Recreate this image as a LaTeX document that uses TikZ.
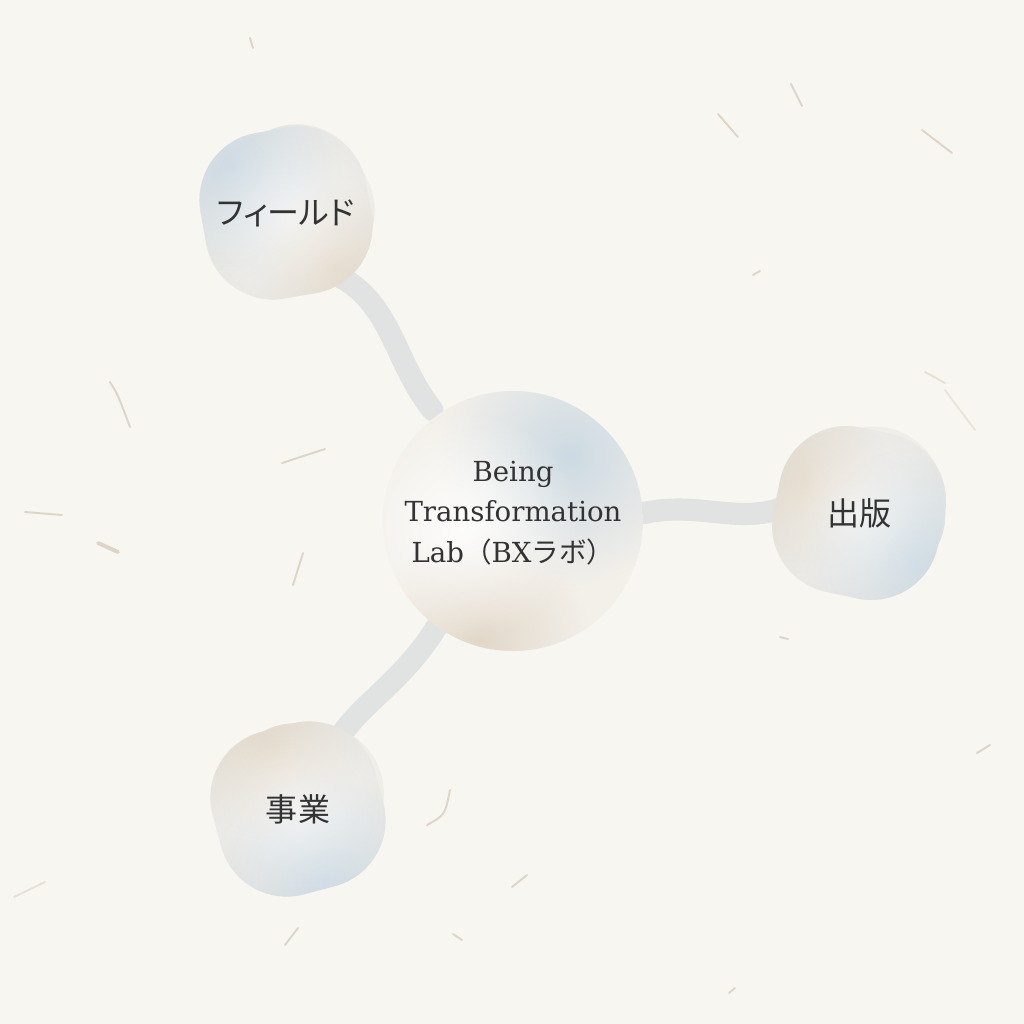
\documentclass[tikz,border=0pt]{standalone}
\usepackage{fontspec}
\setmainfont{DejaVu Serif}
\newfontfamily\jp{Noto Sans CJK JP}
\newfontfamily\jpp[RawFeature=+palt]{Noto Sans CJK JP}
\usetikzlibrary{fadings}

\definecolor{paperbg}{HTML}{F7F6F1}
\definecolor{fibretan}{HTML}{B9A58A}
\definecolor{linkgrey}{HTML}{E1E3E3}
\definecolor{ink}{HTML}{333333}
\definecolor{skyblue}{HTML}{CDDAE3}
\definecolor{sandtan}{HTML}{E2D8C9}
\definecolor{blobbase}{HTML}{EAE9E5}
\definecolor{hubbase}{HTML}{F3F0EA}

\tikzfading[name=glow, inner color=transparent!0, outer color=transparent!100]

\pgfdeclarelayer{bg}
\pgfdeclarelayer{mid}
\pgfsetlayers{bg,mid,main}

% two overlapping rounded squares make one blob
\newcommand{\blobpath}[2]{{[rotate=#1] (-84,-84) rectangle (84,84)} {[shift={(7,-7)}, rotate=#2] (-78,-78) rectangle (78,78)}}

\begin{document}
\begin{tikzpicture}[x=0.01cm, y=-0.01cm,
    fibre/.style={draw=fibretan, line width=0.55pt, line cap=round, opacity=0.4},
    link/.style={draw=linkgrey, line width=6.3pt, line cap=round},
    hub/.style={circle, minimum size=2.6cm, inner sep=0pt, align=center,
        font=\fontsize{7.85}{11.6}\selectfont, text=ink},
    topic/.style={circle, minimum size=1.2cm, inner sep=0pt,
        font=\fontsize{9.1}{11}\jp, text=ink},
    spot/.style={fill=#1, path fading=glow},
    blobshape/.style={rounded corners=0.68cm}]
    \useasboundingbox (0,0) rectangle (1024,1024);

    \node[hub] (bx) at (513,513) {Being\\Transformation\\Lab{\jp （}BX{\jp ラボ）}};
    \node[topic] (field) at (286,213) {\jpp フィールド};
    \node[topic] (pub) at (859,513) {出版};
    \node[topic] (biz) at (298,809) {事業};

    \begin{pgfonlayer}{bg}
    \fill[paperbg] (0,0) rectangle (1024,1024);
    % paper fibres
    \draw[fibre] (110,382) .. controls (118,395) .. (130,427);
    \draw[fibre] (282,463) -- (325,449);
    \draw[fibre] (25,512) -- (62,515);
    \draw[fibre, line width=1.1pt] (98,543) -- (118,552);
    \draw[fibre] (303,553) -- (293,585);
    \draw[fibre] (718,114) -- (738,137);
    \draw[fibre] (791,84) -- (802,106);
    \draw[fibre] (922,130) -- (952,153);
    \draw[fibre] (753,275) -- (760,271);
    \draw[fibre] (780,637) -- (788,639);
    \draw[fibre] (977,753) -- (990,745);
    \draw[fibre] (729,993) -- (735,988);
    \draw[fibre, opacity=0.25] (14,897) -- (45,882);
    \draw[fibre] (427,825) .. controls (445,815) .. (450,790);
    \draw[fibre] (512,887) -- (527,875);
    \draw[fibre] (453,934) -- (462,940);
    \draw[fibre, opacity=0.25] (925,372) -- (945,383);
    \draw[fibre, opacity=0.2] (945,390) -- (975,430);
    \draw[fibre] (285,945) -- (298,928);
    \draw[fibre] (250,38) -- (253,48);
    % connectors
    \draw[link] (bx.128) .. controls (392,360) and (392,295) .. (field.-55);
    \draw[link] (bx.0) .. controls (705,500) and (745,530) .. (pub.168);
    \draw[link] (bx.236) .. controls (400,690) and (345,710) .. (biz.58);
    \end{pgfonlayer}

    \begin{pgfonlayer}{mid}
    % hub circle
    \begin{scope}
        \clip ([yshift=-0.08cm]bx.center) circle (130);
        \fill[hubbase] ([yshift=-0.08cm]bx.center) circle (130);
        \fill[spot=skyblue] (570,455) circle (130);
        \fill[spot=sandtan] (480,640) circle (110);
        \fill[spot=white, opacity=.85] (465,525) circle (115);
    \end{scope}
    % field blob
    \begin{scope}[shift={(field.center)}]
        \fill[blobbase, blobshape] {[rotate=10] (-84,-84) rectangle (84,84)};
        \fill[blobbase, blobshape, opacity=.6] {[shift={(7,-7)}, rotate=28] (-78,-78) rectangle (78,78)};
        \begin{scope}
            \clip[blobshape] \blobpath{10}{28};
            \fill[spot=skyblue] (-55,-45) circle (110);
            \fill[spot=sandtan] (50,55) circle (85);
            \fill[spot=white, opacity=.6] (5,5) circle (90);
        \end{scope}
    \end{scope}
    % pub blob
    \begin{scope}[shift={(pub.center)}]
        \fill[blobbase, blobshape] {[rotate=-12] (-84,-84) rectangle (84,84)};
        \fill[blobbase, blobshape, opacity=.6] {[shift={(7,-7)}, rotate=8] (-78,-78) rectangle (78,78)};
        \begin{scope}
            \clip[blobshape] \blobpath{-12}{8};
            \fill[spot=sandtan] (-55,-30) circle (90);
            \fill[spot=skyblue] (55,45) circle (110);
            \fill[spot=white, opacity=.6] (0,0) circle (90);
        \end{scope}
    \end{scope}
    % biz blob
    \begin{scope}[shift={(biz.center)}]
        \fill[blobbase, blobshape] {[rotate=15] (-84,-84) rectangle (84,84)};
        \fill[blobbase, blobshape, opacity=.6] {[shift={(7,-7)}, rotate=-5] (-78,-78) rectangle (78,78)};
        \begin{scope}
            \clip[blobshape] \blobpath{15}{-5};
            \fill[spot=sandtan] (-30,-65) circle (95);
            \fill[spot=skyblue] (25,70) circle (110);
            \fill[spot=white, opacity=.6] (0,0) circle (90);
        \end{scope}
    \end{scope}
    \end{pgfonlayer}
\end{tikzpicture}
\end{document}
